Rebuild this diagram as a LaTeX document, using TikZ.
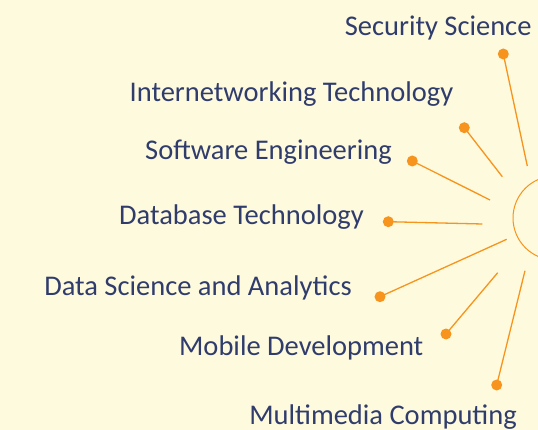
\documentclass[tikz,border=0pt]{standalone}
\usepackage{fontspec}
\setmainfont{Carlito}
\usetikzlibrary{positioning}
\definecolor{spoke-orange}{RGB}{247,148,29}
\definecolor{label-navy}{RGB}{48,61,108}
\definecolor{page-cream}{RGB}{254,250,221}

\begin{document}
\begin{tikzpicture}[x=1pt, y=-1pt,
    spoke/.style={draw=spoke-orange, line width=1.3pt},
    knob/.style={circle, fill=spoke-orange, inner sep=0pt, minimum size=11pt},
    topic/.style={inner sep=0pt, anchor=base east, text=label-navy,
        font=\fontsize{28.5}{32}\selectfont}]

    % BACKGROUND
    \fill[page-cream] (0,0) rectangle (538,430);
    \useasboundingbox (0,0) rectangle (538,430);

    % HUB (mostly off the page)
    \node [circle, draw=spoke-orange, line width=1pt, minimum size=84pt,
        inner sep=0pt] (hub) at (555,218) {};

    % INNER ENDS OF THE SPOKES
    \coordinate (in1) at (527.3,166);
    \coordinate (in2) at (502.3,176.7);
    \coordinate (in3) at (490,200);
    \coordinate (in4) at (482.3,224);
    \coordinate (in5) at (506.7,239.3);
    \coordinate (in6) at (497.7,272.7);
    \coordinate (in7) at (525,270.7);

    % DOTS
    \node [knob] (dot1) at (503.3,54) {};
    \node [knob] (dot2) at (464.3,127.7) {};
    \node [knob] (dot3) at (412.3,161) {};
    \node [knob] (dot4) at (388.3,221.7) {};
    \node [knob] (dot5) at (380,296.7) {};
    \node [knob] (dot6) at (446,334) {};
    \node [knob] (dot7) at (496.7,385) {};

    % LABELS
    \node [topic] (security) at (531.7,36) {Security Science};
    \node [topic] (internet) at (453.5,101.7) {Internetworking Technology};
    \node [topic] (software) at (392,159.3) {Software Engineering};
    \node [topic] (database) at (364,224.3) {Database Technology};
    \node [topic] (datasci) at (352,295) {Data Science and Analytics};
    \node [topic] (mobile) at (423.5,355.3) {Mobile Development};
    \node [topic] (multimedia) at (517,424.3) {Multimedia Computing};

    % Spokes from the hub side out to the dots
    \foreach \idx in {1, ..., 7}
        \draw[spoke] (in\idx) -- (dot\idx.center);
\end{tikzpicture}
\end{document}
